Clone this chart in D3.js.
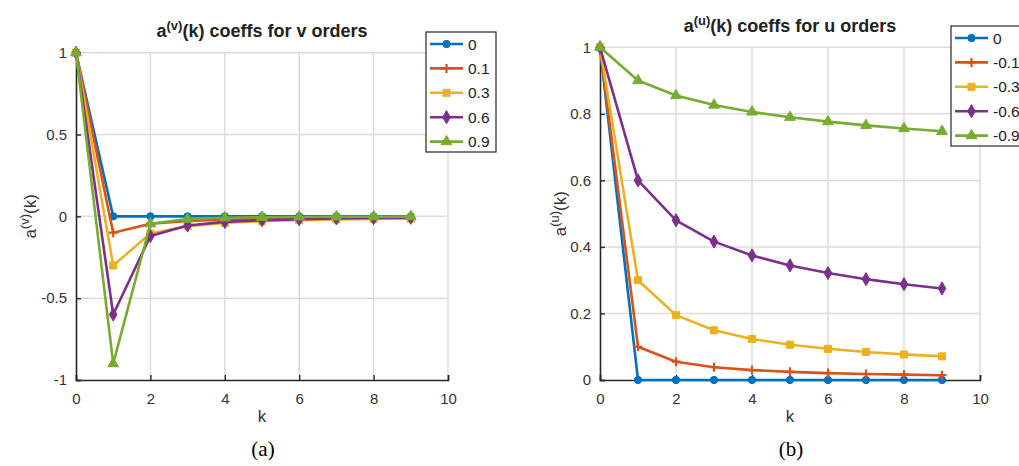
<!DOCTYPE html>
<html>
<head>
<meta charset="utf-8">
<script src="https://cdn.jsdelivr.net/npm/d3@7"></script>
<style>
  body { margin: 0; background: #fff; }
</style>
</head>
<body>
<svg id="chart" width="1019" height="466"></svg>
<script>
// k index shared by both panels
var ks = [0, 1, 2, 3, 4, 5, 6, 7, 8, 9];

// panel (a): v orders
var vOrders = ["0", "0.1", "0.3", "0.6", "0.9"];
var vValues = [
  [1, 0, 0, 0, 0, 0, 0, 0, 0, 0],
  [1, -0.1, -0.045, -0.0285, -0.0207, -0.0161, -0.0132, -0.0111, -0.0096, -0.0084],
  [1, -0.3, -0.105, -0.0595, -0.0402, -0.0297, -0.0233, -0.019, -0.0159, -0.0136],
  [1, -0.6, -0.12, -0.056, -0.0336, -0.0228, -0.0167, -0.0129, -0.0103, -0.0085],
  [1, -0.9, -0.045, -0.0165, -0.0087, -0.0054, -0.0037, -0.0027, -0.002, -0.0016]
];

// panel (b): u orders
var uOrders = ["0", "-0.1", "-0.3", "-0.6", "-0.9"];
var uValues = [
  [1, 0, 0, 0, 0, 0, 0, 0, 0, 0],
  [1, 0.1, 0.055, 0.0385, 0.0298, 0.0245, 0.0208, 0.0181, 0.0161, 0.0145],
  [1, 0.3, 0.195, 0.1495, 0.1233, 0.1061, 0.0937, 0.0843, 0.0769, 0.0709],
  [1, 0.6, 0.48, 0.416, 0.3744, 0.3444, 0.3215, 0.3031, 0.288, 0.2752],
  [1, 0.9, 0.855, 0.8265, 0.8058, 0.7897, 0.7765, 0.7654, 0.7559, 0.7475]
];

var xTicks = [0, 2, 4, 6, 8, 10];
var vYTicks = [-1, -0.5, 0, 0.5, 1];
var uYTicks = [0, 0.2, 0.4, 0.6, 0.8, 1];

var colors = ["#0072BD", "#D95319", "#EDB120", "#7E2F8E", "#77AC30"];
var markers = ["circle", "plus", "square", "diamond", "triangle"];

var sans = "'Liberation Sans', Arial, Helvetica, sans-serif";
var serif = "'Liberation Serif', 'Times New Roman', serif";

var svg = d3.select("#chart");

function markerPath(type) {
  if (type === "circle") return d3.symbol(d3.symbolCircle, 42)();
  if (type === "square") return d3.symbol(d3.symbolSquare, 50)();
  if (type === "diamond") return d3.symbol(d3.symbolDiamond, 50)();
  if (type === "triangle") return d3.symbol(d3.symbolTriangle, 50)();
  return "M-4.5,0H4.5M0,-4.5V4.5";
}

function drawMarker(g, type, color, x, y) {
  var p = g.append("path")
    .attr("d", markerPath(type))
    .attr("transform", "translate(" + x + "," + y + ")");
  if (type === "plus") {
    p.attr("fill", "none").attr("stroke", color).attr("stroke-width", 2.2);
  } else {
    p.attr("fill", color).attr("stroke", color).attr("stroke-width", 1);
  }
}

function panel(opts) {
  var g = svg.append("g").attr("font-family", sans);
  var x = d3.scaleLinear().domain([0, 10]).range([opts.left, opts.right]);
  var y = d3.scaleLinear().domain(opts.yDomain).range([opts.bottom, opts.top]);

  // grid
  var grid = g.append("g").attr("stroke", "#dcdcdc").attr("stroke-width", 1.5);
  grid.selectAll(".gx").data(xTicks.slice(1)).enter().append("line")
    .attr("x1", function (d) { return x(d); }).attr("x2", function (d) { return x(d); })
    .attr("y1", opts.top).attr("y2", opts.bottom);
  grid.selectAll(".gy").data(opts.yTicks.slice(1)).enter().append("line")
    .attr("y1", function (d) { return y(d); }).attr("y2", function (d) { return y(d); })
    .attr("x1", opts.left).attr("x2", opts.right);

  // axes
  var xAxis = d3.axisBottom(x).tickValues(xTicks).tickSize(-5).tickPadding(13)
    .tickFormat(d3.format("d"));
  var yAxis = d3.axisLeft(y).tickValues(opts.yTicks).tickSize(-5).tickPadding(9)
    .tickFormat(function (d) { return String(d); });

  var gx = g.append("g").attr("transform", "translate(0," + opts.bottom + ")").call(xAxis);
  var gy = g.append("g").attr("transform", "translate(" + opts.left + ",0)").call(yAxis);
  [gx, gy].forEach(function (a) {
    a.attr("font-family", sans).attr("font-size", 15);
    a.select(".domain").attr("stroke", "#262626").attr("stroke-width", 1.6);
    a.selectAll(".tick line").attr("stroke", "#262626").attr("stroke-width", 1.4);
    a.selectAll(".tick text").attr("fill", "#333");
  });

  // series
  var line = d3.line()
    .x(function (d, i) { return x(ks[i]); })
    .y(function (d) { return y(d); });
  opts.values.forEach(function (vals, s) {
    g.append("path").datum(vals)
      .attr("d", line)
      .attr("fill", "none")
      .attr("stroke", colors[s])
      .attr("stroke-width", 2.6)
      .attr("stroke-linejoin", "round");
    var mg = g.append("g");
    vals.forEach(function (v, i) {
      drawMarker(mg, markers[s], colors[s], x(ks[i]), y(v));
    });
  });

  // title
  var t = g.append("text")
    .attr("x", (opts.left + opts.right) / 2).attr("y", opts.titleY)
    .attr("text-anchor", "middle").attr("font-size", 18).attr("font-weight", "bold")
    .attr("fill", "#222");
  t.append("tspan").text("a");
  t.append("tspan").attr("dy", -7).attr("font-size", 13).text("(" + opts.sym + ")");
  t.append("tspan").attr("dy", 7).text("(k) coeffs for " + opts.sym + " orders");

  // x label
  g.append("text")
    .attr("x", (opts.left + opts.right) / 2).attr("y", opts.bottom + 42)
    .attr("text-anchor", "middle").attr("font-size", 17).attr("fill", "#333")
    .text("k");

  // y label
  var yl = g.append("text")
    .attr("transform", "translate(" + opts.ylabX + "," + ((opts.top + opts.bottom) / 2) + ") rotate(-90)")
    .attr("text-anchor", "middle").attr("font-size", 17).attr("fill", "#333");
  yl.append("tspan").text("a");
  yl.append("tspan").attr("dy", -7).attr("font-size", 13).text("(" + opts.sym + ")");
  yl.append("tspan").attr("dy", 7).text("(k)");

  // caption
  g.append("text")
    .attr("x", (opts.left + opts.right) / 2 + 1).attr("y", 456)
    .attr("text-anchor", "middle").attr("font-size", 21)
    .attr("font-family", serif)
    .attr("fill", "#000")
    .text(opts.caption);

  // legend
  var lg = g.append("g").attr("transform", "translate(" + opts.legX + "," + opts.legY + ")");
  lg.append("rect")
    .attr("width", opts.legW).attr("height", 120)
    .attr("fill", "#fff").attr("stroke", "#262626").attr("stroke-width", 1.2);
  opts.names.forEach(function (name, s) {
    var cy = 12 + s * 24.4;
    lg.append("line")
      .attr("x1", 4).attr("x2", 37).attr("y1", cy).attr("y2", cy)
      .attr("stroke", colors[s]).attr("stroke-width", 2.6);
    drawMarker(lg, markers[s], colors[s], 20.5, cy);
    lg.append("text")
      .attr("x", 42).attr("y", cy + 5.5)
      .attr("font-size", 15.5).attr("fill", "#222")
      .text(name);
  });
}

panel({
  left: 76, right: 448, top: 52.7, bottom: 380,
  yDomain: [-1, 1], yTicks: vYTicks, values: vValues, names: vOrders,
  sym: "v", titleY: 37, ylabX: 36, caption: "(a)",
  legX: 426, legY: 32, legW: 70
});

panel({
  left: 600, right: 980, top: 47.3, bottom: 380,
  yDomain: [0, 1], yTicks: uYTicks, values: uValues, names: uOrders,
  sym: "u", titleY: 32, ylabX: 566, caption: "(b)",
  legX: 951, legY: 26, legW: 80
});
</script>
</body>
</html>
